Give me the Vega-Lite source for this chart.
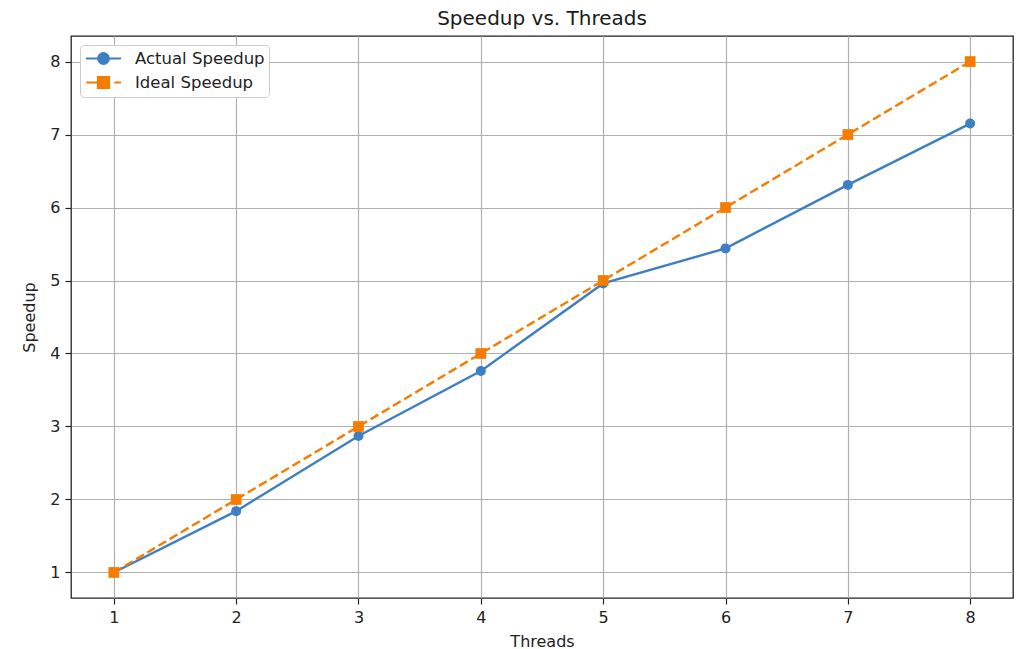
{
  "$schema": "https://vega.github.io/schema/vega-lite/v6.json",
  "width": 942,
  "height": 562,
  "autosize": {"type": "none"},
  "padding": {"left": 71, "top": 36, "right": 8, "bottom": 51},
  "background": "white",
  "title": {"text": "Speedup vs. Threads", "fontSize": 20, "font": "DejaVu Sans", "fontWeight": "normal", "color": "#1a1a1a", "offset": 7, "anchor": "middle"},
  "config": {
    "view": {"stroke": "#222222", "strokeWidth": 1.3},
    "axis": {
      "labelFont": "DejaVu Sans", "labelFontSize": 16, "labelColor": "#222222",
      "titleFont": "DejaVu Sans", "titleFontSize": 16, "titleFontWeight": "normal", "titleColor": "#222222",
      "gridColor": "#b0b0b0", "gridWidth": 1.2, "gridOpacity": 1,
      "tickColor": "#222222", "tickSize": 6, "tickWidth": 1.2,
      "domain": false
    }
  },
  "data": {
    "values": [
      {"threads": 1, "speedup": 1.0, "series": "Actual Speedup"},
      {"threads": 2, "speedup": 1.84, "series": "Actual Speedup"},
      {"threads": 3, "speedup": 2.87, "series": "Actual Speedup"},
      {"threads": 4, "speedup": 3.76, "series": "Actual Speedup"},
      {"threads": 5, "speedup": 4.96, "series": "Actual Speedup"},
      {"threads": 6, "speedup": 5.44, "series": "Actual Speedup"},
      {"threads": 7, "speedup": 6.31, "series": "Actual Speedup"},
      {"threads": 8, "speedup": 7.15, "series": "Actual Speedup"},
      {"threads": 1, "speedup": 1, "series": "Ideal Speedup"},
      {"threads": 2, "speedup": 2, "series": "Ideal Speedup"},
      {"threads": 3, "speedup": 3, "series": "Ideal Speedup"},
      {"threads": 4, "speedup": 4, "series": "Ideal Speedup"},
      {"threads": 5, "speedup": 5, "series": "Ideal Speedup"},
      {"threads": 6, "speedup": 6, "series": "Ideal Speedup"},
      {"threads": 7, "speedup": 7, "series": "Ideal Speedup"},
      {"threads": 8, "speedup": 8, "series": "Ideal Speedup"}
    ]
  },
  "encoding": {
    "x": {"field": "threads", "type": "quantitative", "title": "Threads",
      "scale": {"domain": [0.65, 8.35], "nice": false, "zero": false},
      "axis": {"values": [1, 2, 3, 4, 5, 6, 7, 8], "labelPadding": 5, "titlePadding": 8}},
    "y": {"field": "speedup", "type": "quantitative", "title": "Speedup",
      "scale": {"domain": [0.65, 8.35], "nice": false, "zero": false},
      "axis": {"values": [1, 2, 3, 4, 5, 6, 7, 8], "labelPadding": 5, "titlePadding": 12}},
    "color": {"field": "series", "type": "nominal", "title": null,
      "scale": {"domain": ["Actual Speedup", "Ideal Speedup"], "range": ["#3d7ec4", "#f57c00"]},
      "legend": {
        "orient": "top-left", "offset": 9, "padding": 4,
        "fillColor": "white", "strokeColor": "#cccccc", "cornerRadius": 4,
        "labelFont": "DejaVu Sans", "labelFontSize": 16.5, "labelColor": "#222222",
        "symbolSize": 256, "symbolOffset": 10, "labelOffset": 22, "rowPadding": 3,
        "symbolStrokeWidth": 2.2,
        "encode": {
          "symbols": {"update": {
            "shape": {"signal": "datum.value == 'Actual Speedup' ? 'M-2.2,0H2.2M-0.66,0A0.66,0.66 0 1,0 0.66,0A0.66,0.66 0 1,0 -0.66,0' : 'M-2.15,0H-0.8M1.35,0H2.2M-0.69,-0.69H0.69V0.69H-0.69Z'"},
            "fill": {"signal": "datum.value == 'Actual Speedup' ? '#3d7ec4' : '#f57c00'"},
            "stroke": {"signal": "datum.value == 'Actual Speedup' ? '#3d7ec4' : '#f57c00'"},
            "strokeWidth": {"value": 2.2},
            "strokeDash": {"value": []},
            "opacity": {"value": 1}
          }}
        }
      }}
  },
  "layer": [
    {
      "transform": [{"filter": "datum.series == 'Actual Speedup'"}],
      "mark": {"type": "line", "strokeWidth": 2.4}
    },
    {
      "transform": [{"filter": "datum.series == 'Actual Speedup'"}],
      "mark": {"type": "point", "filled": true, "opacity": 1, "shape": "circle", "size": 100}
    },
    {
      "transform": [{"filter": "datum.series == 'Ideal Speedup'"}],
      "mark": {"type": "line", "strokeWidth": 2.4, "strokeDash": [9, 4]}
    },
    {
      "transform": [{"filter": "datum.series == 'Ideal Speedup'"}],
      "mark": {"type": "point", "filled": true, "opacity": 1, "shape": "square", "size": 115}
    }
  ]
}
